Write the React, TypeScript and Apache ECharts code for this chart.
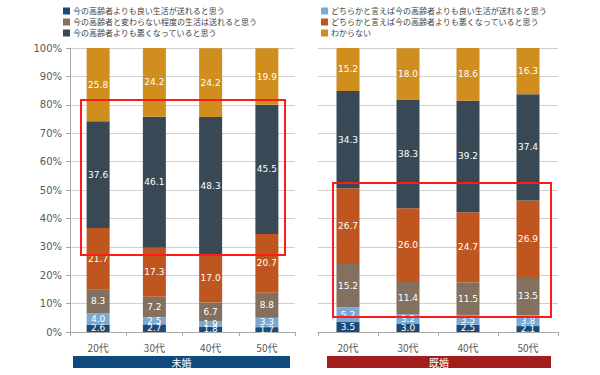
import React, { useEffect, useRef } from "react";
import * as echarts from "echarts";

const categories = ["20代", "30代", "40代", "50代"];
const seriesNames = [
  "今の高齢者よりも良い生活が送れると思う",
  "どちらかと言えば今の高齢者よりも良い生活が送れると思う",
  "今の高齢者と変わらない程度の生活は送れると思う",
  "どちらかと言えば今の高齢者よりも悪くなっていると思う",
  "今の高齢者よりも悪くなっていると思う",
  "わからない",
];
const colors = ["#1a4a78", "#7aa9d3", "#84705f", "#c0561f", "#384855", "#d08e1f"];

// 未婚 (unmarried), per series, per age group
const unmarried = [
  [2.6, 2.7, 1.8, 1.7],
  [4.0, 2.5, 1.9, 3.3],
  [8.3, 7.2, 6.7, 8.8],
  [21.7, 17.3, 17.0, 20.7],
  [37.6, 46.1, 48.3, 45.5],
  [25.8, 24.2, 24.2, 19.9],
];
// 既婚 (married)
const married = [
  [3.5, 3.0, 2.5, 2.1],
  [5.2, 3.2, 3.5, 3.8],
  [15.2, 11.4, 11.5, 13.5],
  [26.7, 26.0, 24.7, 26.9],
  [34.3, 38.3, 39.2, 37.4],
  [15.2, 18.0, 18.6, 16.3],
];
const groupLabels = ["未婚", "既婚"];

const FONT = "'Noto Sans CJK JP', 'DejaVu Sans', sans-serif";

export default function App() {
  const ref = useRef<HTMLDivElement>(null);
  useEffect(() => {
    if (!ref.current) return;
    const chart = echarts.init(ref.current, undefined, { renderer: "svg" });
    const mkSeries = (data: number[][], idx: number) =>
      data.map((vals, i) => ({
        name: seriesNames[i],
        type: "bar",
        stack: "s" + idx,
        xAxisIndex: idx,
        yAxisIndex: idx,
        barWidth: 23,
        itemStyle: { color: colors[i] },
        label: {
          show: true,
          position: "inside",
          color: "#ffffff",
          fontSize: 9,
          fontFamily: "'DejaVu Sans', sans-serif",
          formatter: (p: any) => Number(p.value).toFixed(1),
        },
        data: vals,
      }));
    const xAxisCommon = {
      type: "category",
      data: categories,
      axisLine: { lineStyle: { color: "#a6a6a6" } },
      axisTick: { show: true, length: 4, lineStyle: { color: "#a6a6a6" } },
      axisLabel: { color: "#595959", fontSize: 10, fontFamily: FONT, margin: 10 },
    };
    const gridLineStyle = { color: "#cfcfcf", width: 1 };
    chart.setOption({
      animation: false,
      legend: [
        {
          orient: "vertical",
          left: 58,
          top: 2,
          itemWidth: 7,
          itemHeight: 7,
          itemGap: 3,
          icon: "rect",
          textStyle: { fontSize: 8, color: "#404040", fontFamily: FONT, padding: [0, 0, 0, -2] },
          data: [seriesNames[0], seriesNames[2], seriesNames[4]],
        },
        {
          orient: "vertical",
          left: 316,
          top: 2,
          itemWidth: 7,
          itemHeight: 7,
          itemGap: 3,
          icon: "rect",
          textStyle: { fontSize: 8, color: "#404040", fontFamily: FONT, padding: [0, 0, 0, -2] },
          data: [seriesNames[1], seriesNames[3], seriesNames[5]],
        },
      ],
      grid: [
        { left: 70, top: 48, width: 225, height: 284 },
        { left: 318, top: 48, width: 240, height: 284 },
      ],
      xAxis: [
        { ...xAxisCommon, gridIndex: 0 },
        { ...xAxisCommon, gridIndex: 1 },
      ],
      yAxis: [
        {
          type: "value",
          gridIndex: 0,
          min: 0,
          max: 100,
          interval: 10,
          axisLine: { show: true, lineStyle: { color: "#a6a6a6" } },
          axisTick: { show: true, length: 4, lineStyle: { color: "#a6a6a6" } },
          axisLabel: { formatter: "{value}%", color: "#595959", fontSize: 10, fontFamily: "'DejaVu Sans', sans-serif", margin: 8 },
          splitLine: { show: true, lineStyle: gridLineStyle },
        },
        {
          type: "value",
          gridIndex: 1,
          min: 0,
          max: 100,
          interval: 10,
          axisLine: { show: false },
          axisTick: { show: false },
          axisLabel: { show: false },
          splitLine: { show: true, lineStyle: gridLineStyle },
        },
      ],
      series: [...mkSeries(unmarried, 0), ...mkSeries(married, 1)],
      graphic: [
        {
          type: "rect",
          shape: { x: 81, y: 100, width: 204, height: 155 },
          style: { fill: "none", stroke: "#ff1a1a", lineWidth: 2 },
          z: 100,
        },
        {
          type: "rect",
          shape: { x: 333, y: 183, width: 218, height: 134 },
          style: { fill: "none", stroke: "#ff1a1a", lineWidth: 2 },
          z: 100,
        },
        {
          type: "rect",
          shape: { x: 73, y: 356, width: 217, height: 12 },
          style: { fill: "#0f4a7e" },
        },
        {
          type: "text",
          x: 181.5,
          y: 362,
          style: { text: groupLabels[0], fill: "#ffffff", fontSize: 10, fontFamily: FONT, align: "center", verticalAlign: "middle" },
        },
        {
          type: "rect",
          shape: { x: 327, y: 356, width: 224, height: 12 },
          style: { fill: "#a31d1d" },
        },
        {
          type: "text",
          x: 439,
          y: 362,
          style: { text: groupLabels[1], fill: "#ffffff", fontSize: 10, fontFamily: FONT, align: "center", verticalAlign: "middle" },
        },
      ],
    });
    return () => chart.dispose();
  }, []);
  return <div ref={ref} style={{ width: 600, height: 375, position: "absolute", left: 0, top: 0 }} />;
}
